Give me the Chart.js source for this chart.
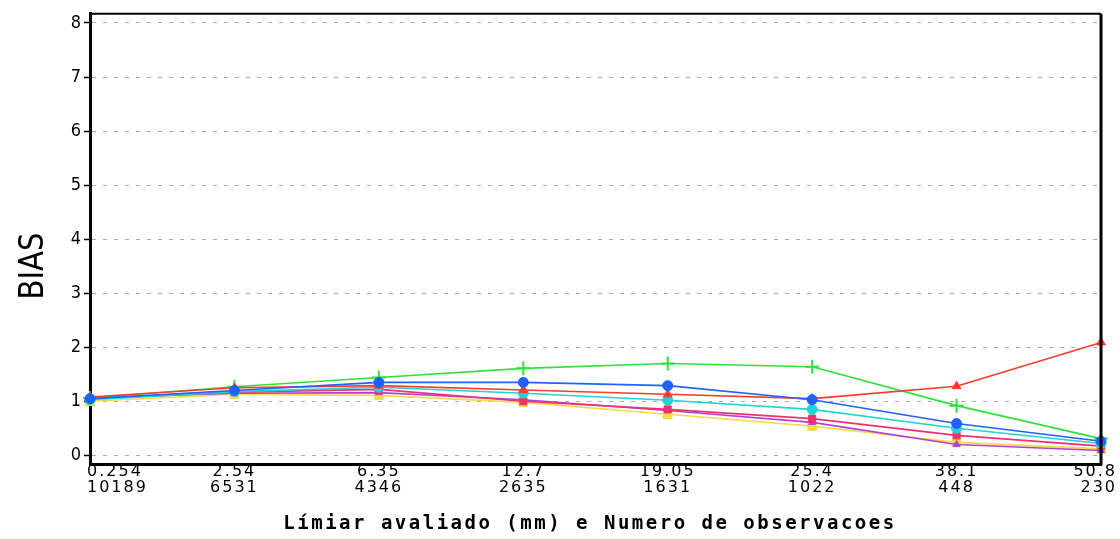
<html>
<head>
  <title>BIAS</title>
  <script src="https://cdn.jsdelivr.net/npm/chart.js@4/dist/chart.umd.min.js"></script>
  <style>
  body { margin: 0; background: white; }
  #wrap { width: 1120px; height: 539px; }
  </style>
</head>
<body>
  <div id="wrap"><canvas id="bias-chart"></canvas></div>

  <script>
    // limiar avaliado (mm) and number of observations
    var limiares = ['0.254', '2.54', '6.35', '12.7', '19.05', '25.4', '38.1', '50.8'];
    var numObs = ['10189', '6531', '4346', '2635', '1631', '1022', '448', '230'];

    // BIAS per model
    var azul     = [1.05, 1.20, 1.35, 1.35, 1.29, 1.03, 0.59, 0.26];
    var vermelho = [1.08, 1.25, 1.29, 1.21, 1.13, 1.05, 1.28, 2.09];
    var verde    = [1.06, 1.27, 1.44, 1.61, 1.70, 1.64, 0.92, 0.31];
    var ciano    = [1.03, 1.18, 1.26, 1.15, 1.02, 0.85, 0.50, 0.22];
    var rosa     = [1.05, 1.17, 1.22, 1.00, 0.85, 0.68, 0.37, 0.17];
    var roxo     = [1.06, 1.15, 1.16, 1.03, 0.83, 0.61, 0.20, 0.09];
    var amarelo  = [1.00, 1.13, 1.11, 0.98, 0.76, 0.54, 0.24, 0.12];

    function serie(data, cor, estilo, raio) {
      return {
        data: data,
        borderColor: cor,
        backgroundColor: cor,
        borderWidth: 1.6,
        pointStyle: estilo,
        pointRadius: raio,
        pointBorderWidth: estilo == 'cross' ? 2 : 1,
        tension: 0,
        clip: false
      };
    }

    // texts outside the plot + the frame
    var moldura = {
      id: 'moldura',
      afterDraw: function(chart) {
        var ctx = chart.ctx;
        var a = chart.chartArea;
        var x = chart.scales.x;
        ctx.save();
        ctx.strokeStyle = 'black';
        ctx.lineWidth = 2;
        ctx.beginPath();
        ctx.moveTo(a.left, a.top);
        ctx.lineTo(a.right, a.top);
        ctx.stroke();
        ctx.lineWidth = 3;
        ctx.beginPath();
        ctx.moveTo(a.right, a.top);
        ctx.lineTo(a.right, a.bottom + 1);
        ctx.stroke();

        ctx.fillStyle = 'black';
        ctx.textBaseline = 'middle';
        ctx.font = '16px "DejaVu Sans"';
        ctx.letterSpacing = '2px';
        var ultimo = limiares.length - 1;
        for (var i = 0; i < limiares.length; i++) {
          var px = x.getPixelForValue(i);
          if (i == 0) {
            ctx.textAlign = 'left';
            px = px - 3;
          } else if (i == ultimo) {
            ctx.textAlign = 'right';
            px = px + 16;
          } else {
            ctx.textAlign = 'center';
          }
          ctx.fillText(limiares[i], px, 472);
          ctx.fillText(numObs[i], px, 488);
        }

        ctx.textAlign = 'center';
        ctx.font = 'bold 19px "DejaVu Sans Mono"';
        ctx.letterSpacing = '2.5px';
        ctx.fillText('Límiar avaliado (mm) e Numero de observacoes', 590, 524);

        ctx.letterSpacing = '0px';
        ctx.translate(34, 266);
        ctx.rotate(-Math.PI / 2);
        ctx.scale(0.95, 1);
        ctx.font = '34px "Liberation Sans Narrow", "DejaVu Sans Condensed"';
        ctx.fillText('BIAS', 0, 0);
        ctx.restore();
      }
    };

    new Chart(document.getElementById('bias-chart'), {
      type: 'line',
      data: {
        labels: limiares,
        datasets: [
          serie(azul, '#1f62ff', 'circle', 5),
          serie(vermelho, '#ff3a2a', 'triangle', 5),
          serie(verde, '#2fe23a', 'cross', 7),
          serie(ciano, '#22d3d3', 'circle', 5),
          serie(rosa, '#f0306e', 'rect', 5),
          serie(roxo, '#b23fd6', 'triangle', 4),
          serie(amarelo, '#f2dc4a', 'rect', 6)
        ]
      },
      options: {
        responsive: true,
        maintainAspectRatio: false,
        animation: false,
        layout: { padding: { top: 13, right: 19, left: 0, bottom: 0 } },
        plugins: {
          legend: { display: false },
          tooltip: { enabled: false }
        },
        scales: {
          x: {
            type: 'category',
            offset: false,
            grid: { display: false },
            ticks: { display: false },
            border: { display: true, color: 'black', width: 3 },
            afterFit: function(scale) { scale.height = 75; }
          },
          y: {
            min: -0.16,
            max: 8.17,
            ticks: {
              stepSize: 1,
              includeBounds: false,
              color: 'black',
              padding: 3,
              font: { family: '"Liberation Sans Narrow", "DejaVu Sans Condensed"', size: 18 }
            },
            grid: {
              color: '#a8a8a8',
              tickLength: 6,
              tickColor: 'black',
              tickWidth: 1.5,
              tickBorderDash: []
            },
            border: { display: true, color: 'black', width: 3, dash: [4, 7] },
            afterFit: function(scale) { scale.width = 90; }
          }
        }
      },
      plugins: [moldura]
    });
  </script>
</body>
</html>
